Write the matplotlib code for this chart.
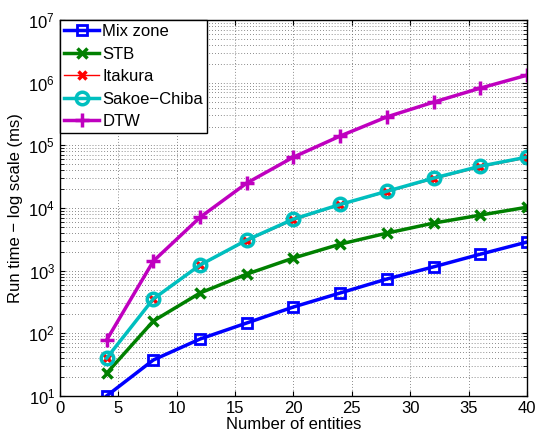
import matplotlib
matplotlib.use("Agg")
import matplotlib.pyplot as plt
from matplotlib.ticker import LogLocator, NullFormatter

plt.rcParams['font.family'] = ['Liberation Sans', 'DejaVu Sans']
plt.rcParams['mathtext.fontset'] = 'custom'
plt.rcParams['mathtext.rm'] = 'Liberation Sans'
plt.rcParams['mathtext.it'] = 'Liberation Sans'

# Daten
x = [4, 8, 12, 16, 20, 24, 28, 32, 36, 40]
mixzone = [10, 37.5, 81, 146, 263, 440, 735, 1150, 1830, 2860]
stb = [23, 157, 440, 880, 1590, 2650, 3970, 5740, 7700, 10300]
itakura = [40, 350, 1210, 3000, 6400, 11200, 18000, 29000, 45000, 63000]
sakoe = [40, 354, 1230, 3080, 6650, 11400, 18500, 30000, 46500, 65000]
dtw = [78, 1420, 7100, 25000, 65000, 141000, 285000, 490000, 820000, 1320000]

fig = plt.figure(figsize=(5.35, 4.37), dpi=100)
ax = fig.add_axes([0.112, 0.094, 0.873, 0.86])

lw = 2.5
ax.plot(x, mixzone, '-s', color='#0000FF', lw=lw, ms=7, mfc='none', mew=2, label='Mix zone')
ax.plot(x, stb, '-x', color='#008000', lw=lw, ms=7, mew=2.5, label='STB')
ax.plot(x, itakura, '-x', color='#FF0000', lw=1, ms=6, mew=2.5, label='Itakura')
ax.plot(x, sakoe, '-o', color='#00BFBF', lw=lw, ms=9, mfc='none', mew=2.5, label='Sakoe\u2212Chiba')
ax.plot(x, dtw, '-+', color='#BF00BF', lw=lw, ms=10, mew=2.5, label='DTW')

ax.set_yscale('log')
ax.set_xlim(0, 40)
ax.set_ylim(10, 1e7)
ax.set_xticks(range(0, 41, 5))
ax.yaxis.set_major_locator(LogLocator(base=10, numticks=10))
ax.yaxis.set_minor_locator(LogLocator(base=10, subs=range(2, 10), numticks=100))
ax.yaxis.set_minor_formatter(NullFormatter())

ax.grid(True, which='major', ls=(0, (1, 2.5)), color='#666666', lw=0.6)
ax.grid(True, which='minor', axis='y', ls=(0, (1, 2.5)), color='#666666', lw=0.6)
ax.tick_params(which='both', direction='in', top=True, right=True, labelsize=12)
ax.tick_params(which='minor', length=3)
for s in ax.spines.values():
    s.set_linewidth(1)

ax.set_xlabel('Number of entities', fontsize=12, labelpad=1)
ax.set_ylabel('Run time \u2212 log scale (ms)', fontsize=12)

leg = ax.legend(loc='upper left', fontsize=12, fancybox=False, framealpha=1,
                edgecolor='black', borderaxespad=0, handlelength=2.1,
                borderpad=0.25, labelspacing=0.45, handletextpad=0.2)
leg.get_frame().set_linewidth(1)

fig.savefig('out.png', dpi=100)
